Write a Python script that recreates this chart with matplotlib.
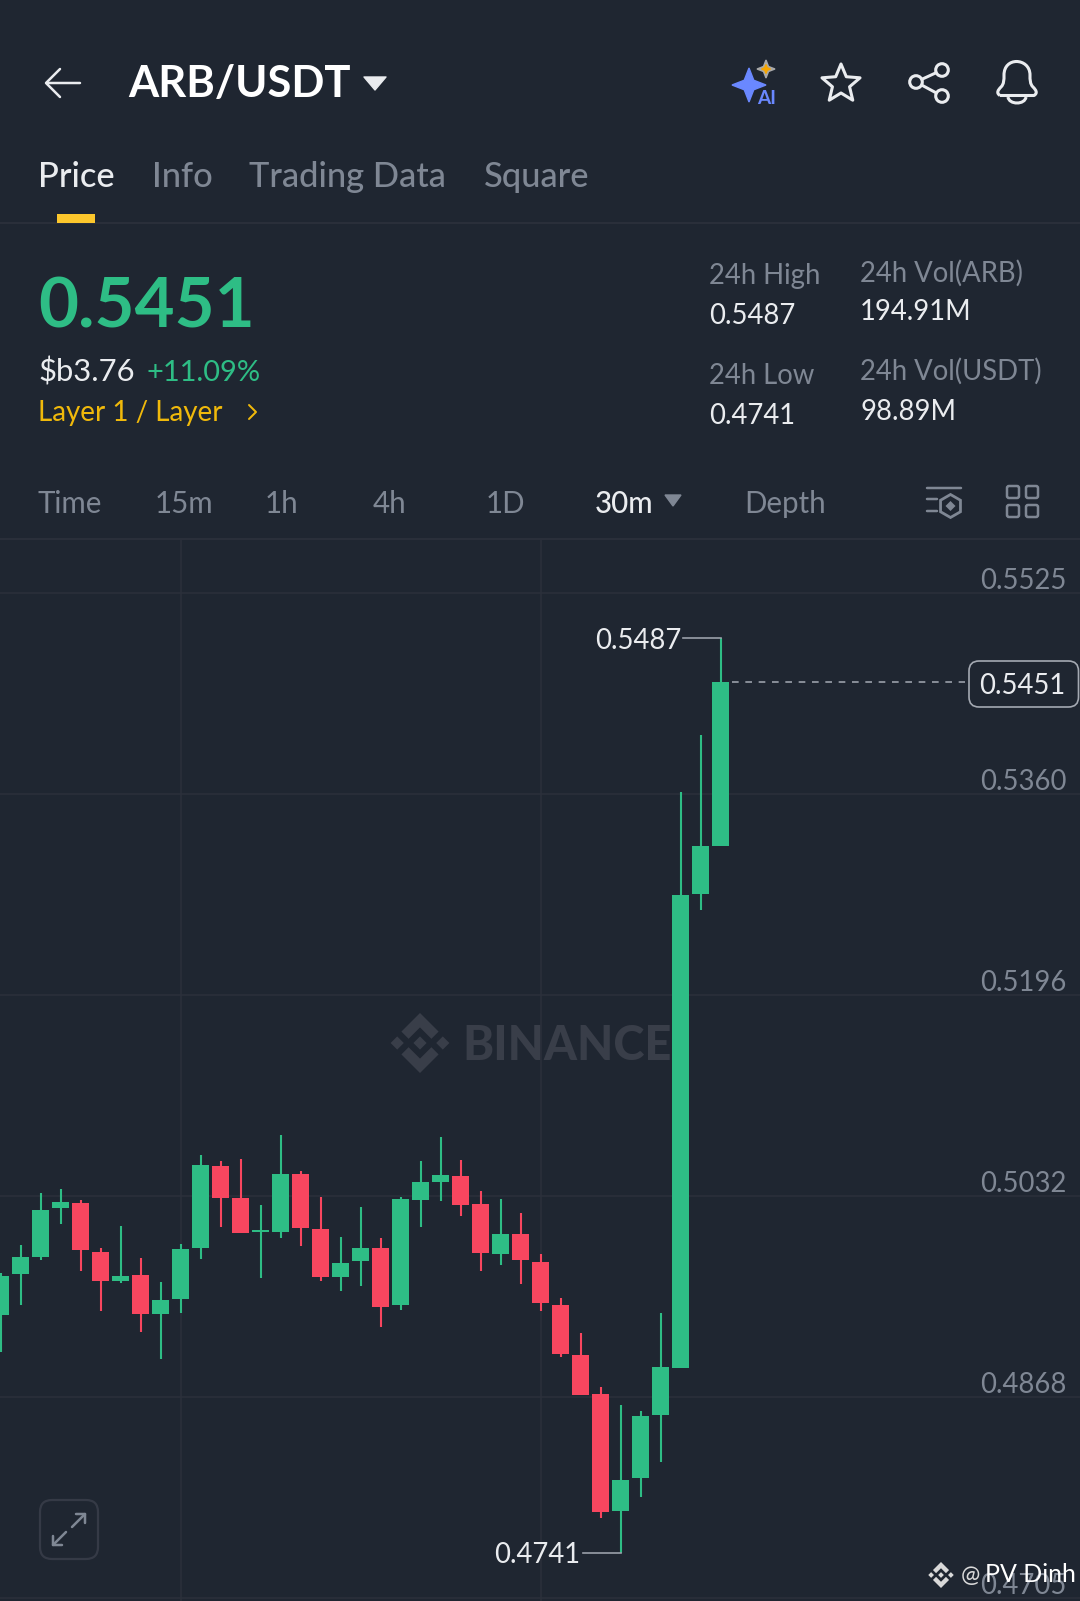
import matplotlib
matplotlib.use('Agg')
import matplotlib.pyplot as plt
import numpy as np
from matplotlib.patches import Polygon, Circle, FancyBboxPatch, RegularPolygon, PathPatch, Rectangle
from matplotlib.path import Path

plt.rcParams['font.family'] = ['Lato', 'DejaVu Sans']

# candles, oldest first
opens = [.49349, .49681, .49819, .50219, .50265, .49866, .49626, .49675, .49360, .49477,
         .49898, .50564, .50306, .50026, .50026, .50502, .50053, .49659, .49787, .49895,
         .49428, .50287, .50437, .50483, .50254, .49849, .50012, .49784, .49433, .49025,
         .48707, .47749, .48022, .48530, .48916, .52784, .53175]
highs = [.49694, .49923, .50347, .50374, .50287, .49895, .50078, .49816, .49615, .49925,
         .50657, .50605, .50624, .50244, .50815, .50526, .50314, .49988, .50227, .49977,
         .50309, .50608, .50798, .50613, .50363, .50298, .50184, .49846, .49487, .49205,
         .48764, .48617, .48568, .49368, .53619, .54081, .5487]
lows = [.49050, .49428, .49795, .50088, .49705, .49379, .49607, .49207, .48987, .49368,
        .49806, .50064, .50015, .49648, .49974, .49909, .49626, .49547, .49585, .49248,
        .49387, .50064, .50276, .50154, .49705, .49757, .49599, .49379, .49006, .48696,
        .47690, .4741, .47866, .48147, .48916, .52653, .53175]
closes = [.49667, .49825, .50205, .50273, .49879, .49626, .49664, .49357, .49474, .49885,
          .50575, .50306, .50015, .50045, .50502, .50056, .49656, .49776, .49898, .49417,
          .50298, .50437, .50494, .50244, .49855, .50012, .49795, .49449, .49028, .48696,
          .47741, .48005, .48527, .48927, .52776, .53178, .5451]

grid_prices = [.5524, .5360, .5196, .5032, .4868, .4704]
price_labels = ['0.5525', '0.5360', '0.5196', '0.5032', '0.4868', '0.4705']
vgrid_candles = [9, 27]

tabs = ['Price', 'Info', 'Trading Data', 'Square']
tab_x = [38, 152, 249, 484]
ranges = ['Time', '15m', '1h', '4h', '1D', '30m', 'Depth']
range_x = [38, 155, 265, 373, 486, 595, 744]

BG = '#1f2631'
GRID = '#2b303b'
GREEN = '#2ebd85'
RED = '#f8465f'
WHITE = '#eaecef'
GRAY = '#7f8794'
YELLOW = '#f0b90b'

W, H = 1080, 1601
fig = plt.figure(figsize=(W / 100, H / 100), dpi=100, facecolor=BG)

# pixel canvas for the app chrome, sits behind the chart
ui = fig.add_axes([0, 0, 1, 1], zorder=1)
ui.set_xlim(0, W)
ui.set_ylim(H, 0)
ui.axis('off')


def txt(x, y, s, size, color=WHITE, weight='normal', ha='left', target=None):
    target = target or ui
    return target.text(x, y, s, fontsize=size * 0.72, color=color, fontweight=weight,
                       ha=ha, va='baseline')


def line(xs, ys, color=WHITE, lw=3):
    ui.plot(xs, ys, color=color, lw=lw * 0.72, solid_capstyle='round', solid_joinstyle='round')


def binance_logo(target, cx, cy, r, color):
    top = [(0, -1), (.62, -.38), (.38, -.14), (0, -.52), (-.38, -.14), (-.62, -.38)]
    for sign in (1, -1):
        target.add_patch(Polygon([(cx + a * r, cy + sign * b * r) for a, b in top], fc=color, ec='none'))
    for dx in (-.76, 0, .76):
        d = .22
        target.add_patch(Polygon([(cx + dx * r, cy - d * r), (cx + (dx + d) * r, cy),
                                  (cx + dx * r, cy + d * r), (cx + (dx - d) * r, cy)], fc=color, ec='none'))


def sparkle(cx, cy, r, color):
    k = .28 * r
    ui.add_patch(Polygon([(cx, cy - r), (cx + k, cy - k), (cx + r, cy), (cx + k, cy + k),
                          (cx, cy + r), (cx - k, cy + k), (cx - r, cy), (cx - k, cy - k)],
                         fc=color, ec=color, lw=1))


# header
line([47, 80], [83, 83], lw=2.5)
line([60, 46, 60], [69, 83, 97], lw=2.5)
txt(128, 97, 'ARB/USDT', 43.5, color='#ffffff', weight='bold')
ui.add_patch(Polygon([(364, 77), (386, 77), (375, 90)], fc=WHITE, ec=WHITE, lw=1, joinstyle='round'))

sparkle(749, 85, 17, '#6a88ff')
sparkle(766, 69, 9, '#a9a9a9')
sparkle(766, 69, 4.5, '#f7a600')
txt(757, 104, 'AI', 19, color='#6a88ff', weight='bold')

star = [(841 + (20 if i % 2 == 0 else 9) * np.cos(np.pi * (i / 5 - .5)),
         84 + (20 if i % 2 == 0 else 9) * np.sin(np.pi * (i / 5 - .5))) for i in range(10)]
ui.add_patch(Polygon(star, fc='none', ec=WHITE, lw=2.2, joinstyle='round'))

line([916, 942], [82, 70])
line([916, 942], [82, 96])
for cx, cy in [(942, 70), (916, 82), (942, 96)]:
    ui.add_patch(Circle((cx, cy), 6.3, fc=BG, ec=WHITE, lw=2.2, zorder=3))

bell = Path([(1000, 95.5), (996, 93), (998, 90), (1001, 87), (1004, 84), (1004, 80), (1004, 75),
             (1004, 66), (1010, 61.5), (1016.5, 61.5), (1023, 61.5), (1030, 66), (1030, 75),
             (1030, 80), (1030, 84), (1033, 87), (1036, 90), (1038, 93), (1034, 95.5), (1000, 95.5)],
            [Path.MOVETO] + [Path.CURVE4] * 18 + [Path.LINETO])
ui.add_patch(PathPatch(bell, fc='none', ec=WHITE, lw=2.2, joinstyle='round'))
clapper = Path([(1008, 97), (1009, 105), (1025, 105), (1026, 97)], [Path.MOVETO] + [Path.CURVE4] * 3)
ui.add_patch(PathPatch(clapper, fc='none', ec=WHITE, lw=2.2))

# tabs
for i, (s, x) in enumerate(zip(tabs, tab_x)):
    txt(x, 187, s, 34.5, color=WHITE if i == 0 else GRAY, weight='medium')
ui.add_patch(Rectangle((57, 214), 38, 9, fc='#fcc72c', ec='none', zorder=3))
ui.plot([0, W], [223, 223], color=GRID, lw=1.4)

# price block
txt(38, 327, '0.5451', 69, color=GREEN, weight='bold')
txt(38, 381, '$b3.76', 31)
txt(146, 381, '+11.09%', 29, color=GREEN)
txt(38, 421, 'Layer 1 / Layer', 27.7, color=YELLOW)
line([249, 256, 249], [405, 412, 419], color=YELLOW, lw=2)

for x, y1, a, y2, b in [(709, 284, '24h High', 324, '0.5487'), (709, 384, '24h Low', 424, '0.4741'),
                        (860, 282, '24h Vol(ARB)', 320, '194.91M'), (860, 380, '24h Vol(USDT)', 420, '98.89M')]:
    txt(x, y1, a, 27.5, color=GRAY)
    txt(x, y2, b, 27.5)

# range selector
for s, x in zip(ranges, range_x):
    txt(x, 513, s, 29.5, color=WHITE if s == '30m' else GRAY, weight='medium' if s == '30m' else 'normal')
ui.add_patch(Polygon([(665, 495), (681, 495), (673, 506)], fc=GRAY, ec=GRAY, lw=1))

line([927, 961], [488, 488], color=GRAY, lw=2.5)
line([927, 937], [499, 499], color=GRAY, lw=2.5)
line([927, 937], [511, 511], color=GRAY, lw=2.5)
ui.add_patch(RegularPolygon((950.5, 506), 6, radius=11.5, fc='none', ec=GRAY, lw=2))
ui.add_patch(Polygon([(950.5, 501), (955.5, 506), (950.5, 511), (945.5, 506)], fc=GRAY, ec='none'))
for gx in (1006, 1025):
    for gy in (485, 504):
        ui.add_patch(FancyBboxPatch((gx + 1, gy + 1), 12, 12, boxstyle='round,pad=0,rounding_size=2',
                                    fc='none', ec=GRAY, lw=1.8))
ui.plot([0, W], [539, 539], color=GRID, lw=1.4)

# watermark under the candles
binance_logo(ui, 420, 1043, 30, '#393e49')
txt(462, 1060, 'BINANCE', 47, color='#393e49', weight=900)

# chart area, same px-per-price scale as the grid labels
PX_PER_UNIT = 12256
top_px, bot_px = 540, H
ax = fig.add_axes([0, 0, 1, (bot_px - top_px) / H], zorder=2)
ax.patch.set_visible(False)
ax.axis('off')
ax.set_xlim(-.67 / 20, (W - .67) / 20)
ax.set_ylim(.5360 - (bot_px - 794) / PX_PER_UNIT, .5360 + (794 - top_px) / PX_PER_UNIT)

for p in grid_prices:
    ax.axhline(p, color=GRID, lw=1.1, zorder=1)
for c in vgrid_candles:
    ax.axvline(c, color=GRID, lw=1.1, zorder=1)

xs = list(range(len(opens)))
colors = [GREEN if c >= o else RED for o, c in zip(opens, closes)]
ax.vlines(xs, lows, highs, colors=colors, lw=1.5, zorder=3)
ax.bar(xs, [abs(c - o) for o, c in zip(opens, closes)], bottom=[min(o, c) for o, c in zip(opens, closes)],
       width=.87, color=colors, zorder=4)

# high / low callouts
i_hi = highs.index(max(highs))
i_lo = lows.index(min(lows))
ax.plot([i_hi - 1.9, i_hi], [highs[i_hi]] * 2, color='#9aa0aa', lw=1.2, zorder=3)
ax.plot([i_lo - 1.9, i_lo], [lows[i_lo]] * 2, color='#9aa0aa', lw=1.2, zorder=3)
ax.annotate(f'{highs[i_hi]:.4f}', (i_hi - 1.9, highs[i_hi]), xytext=(-.5, -7.5), textcoords='offset points',
            fontsize=27.5 * .72, color=WHITE, ha='right', va='baseline')
ax.annotate(f'{lows[i_lo]:.4f}', (i_lo - 1.9, lows[i_lo]), xytext=(-1.5, -7.5), textcoords='offset points',
            fontsize=27.5 * .72, color=WHITE, ha='right', va='baseline')

# last price
ax.plot([len(opens) - .45, 48.2], [closes[-1]] * 2, color='#9aa0aa', lw=1.2, dashes=(4, 4), zorder=3)

# price labels just above each grid line
for p, s in zip(grid_prices, price_labels):
    ax.annotate(s, (1066 / 20, p), xytext=(0, 3), textcoords='offset points',
                fontsize=27.5 * .72, color=GRAY, ha='right', va='baseline', zorder=5)

ui.add_patch(FancyBboxPatch((969, 661), 109.5, 46, boxstyle='round,pad=0,rounding_size=10',
                            fc=BG, ec='#a4a9b2', lw=1.2))
txt(1065, 694, f'{closes[-1]:.4f}', 27.5, ha='right')

# expand button
ui.add_patch(FancyBboxPatch((40, 1500), 58, 59, boxstyle='round,pad=0,rounding_size=12',
                            fc='none', ec='#353a46', lw=1.6))
line([72, 85], [1527, 1514], color=GRAY, lw=2.5)
line([76, 85, 85], [1514, 1514, 1523], color=GRAY, lw=2.5)
line([66, 53], [1532, 1545], color=GRAY, lw=2.5)
line([53, 53, 62], [1536, 1545, 1545], color=GRAY, lw=2.5)

# share watermark, on top of the last axis label
wm = fig.add_axes([0, 0, 1, 1], zorder=3)
wm.set_xlim(0, W)
wm.set_ylim(H, 0)
wm.axis('off')
binance_logo(wm, 941, 1575, 13, '#d9d9d9')
txt(961, 1582, '@', 23, color='#d9d9d9', target=wm)
txt(985, 1582, 'PV Dinh', 25, color='#ffffff', target=wm)

fig.savefig('out.png', dpi=100, facecolor=BG)
